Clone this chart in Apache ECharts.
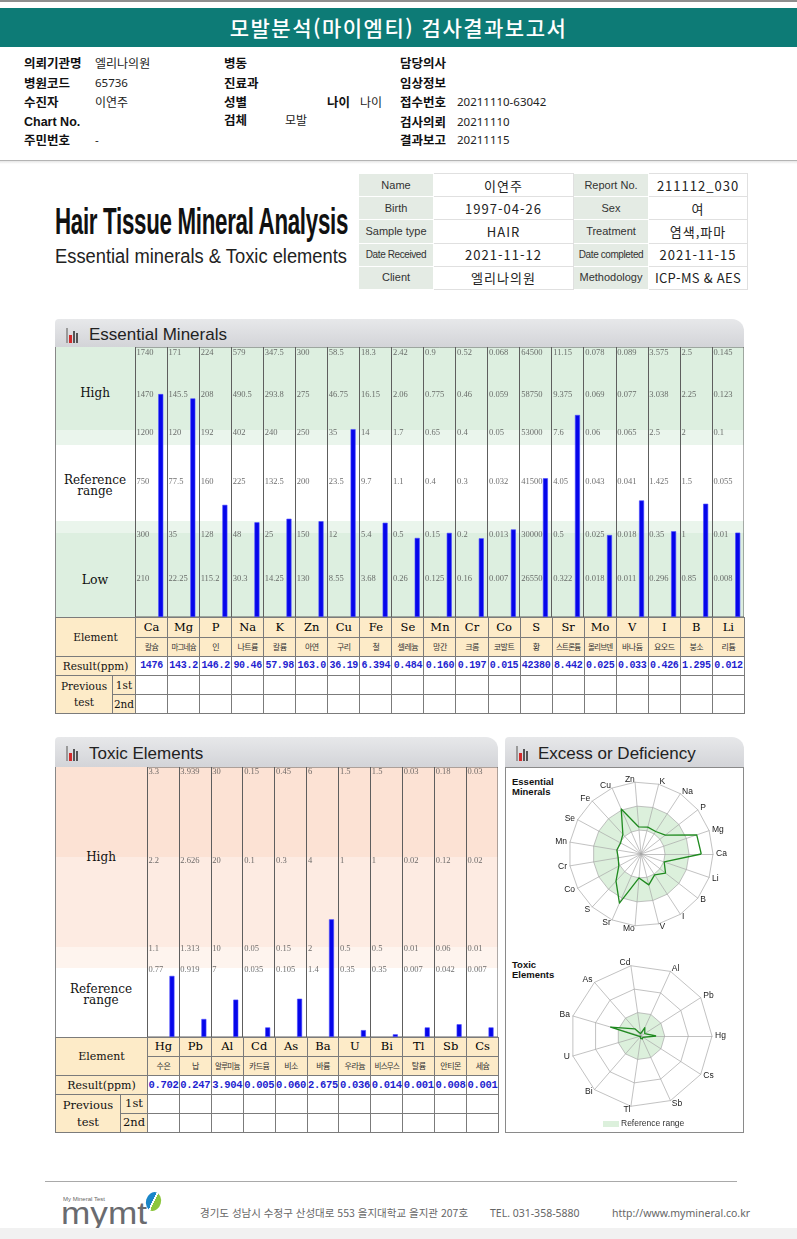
<!DOCTYPE html>
<html lang="ko"><head><meta charset="utf-8"><title>모발분석(마이엠티) 검사결과보고서</title>
<script src="https://cdn.jsdelivr.net/npm/echarts@6.0.0/dist/echarts.min.js"></script>
<style>
html,body{margin:0;padding:0;background:#fff;width:797px;height:1239px;overflow:hidden;}
#page{position:relative;width:797px;height:1239px;font-family:'Noto Sans CJK KR','Noto Sans',sans-serif;color:#111;}
table.g{position:absolute;border-collapse:collapse;table-layout:fixed;}
table.g td{border:1px solid #7b7b7b;padding:0;text-align:center;vertical-align:middle;overflow:hidden;white-space:nowrap;line-height:1;}
td.hd{background:#fdebc8;font-family:'DejaVu Serif',serif;color:#111;}
td.sym{background:#fdebc8;font-family:'DejaVu Serif',serif;font-size:11.5px;color:#000;}
td.kor{background:#fdebc8;font-size:8px;color:#333;letter-spacing:-0.5px;}
td.res{background:#fff;font-family:'Liberation Mono',monospace;font-weight:bold;color:#1f1fd0;letter-spacing:-0.3px;}
td.emp{background:#fff;}
table.info{position:absolute;left:358px;top:173px;width:389px;height:117px;border-collapse:collapse;table-layout:fixed;border:1px solid #b0b0b0;}
table.info td{padding:0;text-align:center;vertical-align:middle;white-space:nowrap;line-height:1;}
table.info td.l{background:#e4ebe4;border:1px solid #fff;font-family:'Liberation Sans',Arial,sans-serif;font-size:11px;color:#333;}
table.info td.v{background:#fff;border:1px solid #e0e0e0;font-size:13px;color:#222;letter-spacing:1px;}
</style></head>
<body><div id="page"></div>
<script>
// ---------------- DATA ----------------
const essSymbols = ['Ca','Mg','P','Na','K','Zn','Cu','Fe','Se','Mn','Cr','Co','S','Sr','Mo','V','I','B','Li'];
const essKorean  = ['칼슘','마그네슘','인','나트륨','칼륨','아연','구리','철','셀레늄','망간','크롬','코발트','황','스트론튬','몰리브덴','바나듐','요오드','붕소','리튬'];
const essResults = ['1476','143.2','146.2','90.46','57.98','163.0','36.19','6.394','0.484','0.160','0.197','0.015','42380','8.442','0.025','0.033','0.426','1.295','0.012'];
const essTop     = [1740,171,224,579,347.5,300,58.5,18.3,2.42,0.9,0.52,0.068,64500,11.15,0.078,0.089,3.575,2.5,0.145];
const essHighMid = [1470,145.5,208,490.5,293.8,275,46.75,16.15,2.06,0.775,0.46,0.059,58750,9.375,0.069,0.077,3.038,2.25,0.123];
const essHighMin = [1200,120,192,402,240,250,35,14,1.7,0.65,0.4,0.05,53000,7.6,0.06,0.065,2.5,2,0.1];
const essRefMid  = [750,77.5,160,225,132.5,200,23.5,9.7,1.1,0.4,0.3,0.032,41500,4.05,0.043,0.041,1.425,1.5,0.055];
const essRefMin  = [300,35,128,48,25,150,12,5.4,0.5,0.15,0.2,0.013,30000,0.5,0.025,0.018,0.35,1,0.01];
const essLowMid  = [210,22.25,115.2,30.3,14.25,130,8.55,3.68,0.26,0.125,0.16,0.007,26550,0.322,0.018,0.011,0.296,0.85,0.008];

const toxSymbols = ['Hg','Pb','Al','Cd','As','Ba','U','Bi','Tl','Sb','Cs'];
const toxKorean  = ['수은','납','알루미늄','카드뮴','비소','바륨','우라늄','비스무스','탈륨','안티몬','세슘'];
const toxResults = ['0.702','0.247','3.904','0.005','0.060','2.675','0.036','0.014','0.001','0.008','0.001'];
const toxTop     = [3.3,3.939,30,0.15,0.45,6,1.5,1.5,0.03,0.18,0.03];
const toxHighMin = [2.2,2.626,20,0.1,0.3,4,1,1,0.02,0.12,0.02];
const toxRefMax  = [1.1,1.313,10,0.05,0.15,2,0.5,0.5,0.01,0.06,0.01];
const toxRefMid  = [0.77,0.919,7,0.035,0.105,1.4,0.35,0.35,0.007,0.042,0.007];

const infoLabelsL = ['Name','Birth','Sample type','Date Received','Client'];
const infoValuesL = ['이연주','1997-04-26','HAIR','2021-11-12','엘리나의원'];
const infoLabelsR = ['Report No.','Sex','Treatment','Date completed','Methodology'];
const infoValuesR = ['211112_030','여','염색,파마','2021-11-15','ICP-MS & AES'];

// ---------------- LAYOUT ----------------
const page = document.getElementById('page');
function box(x,y,w,h,css,html){const d=document.createElement('div');d.style.cssText=`position:absolute;left:${x}px;top:${y}px;width:${w}px;height:${h}px;`+(css||'');if(html!=null)d.innerHTML=html;page.appendChild(d);return d;}
function txt(x,yc,s,css){const d=document.createElement('div');d.style.cssText=`position:absolute;left:${x}px;top:${yc}px;transform:translateY(-50%);white-space:nowrap;line-height:1;`+(css||'');d.textContent=s;page.appendChild(d);return d;}
function ctxt(x,w,yc,s,css){const d=document.createElement('div');d.style.cssText=`position:absolute;left:${x}px;width:${w}px;top:${yc}px;transform:translateY(-50%);text-align:center;white-space:nowrap;`+(css||'');d.innerHTML=s;page.appendChild(d);return d;}
function fitText(x,yc,s,width,css){const d=txt(x,yc,s,css);const w=d.getBoundingClientRect().width;d.style.transformOrigin='left center';d.style.transform=`translateY(-50%) scaleX(${width/w})`;return d;}

// top header
box(0,0,797,2,'background:#8e8e8e');
box(0,8,797,39,'background:#0d7b76;color:#fff;text-align:center;line-height:39px;font-size:21px;font-weight:500;letter-spacing:1.5px;','모발분석(마이엠티) 검사결과보고서');
const LB='font-weight:bold;font-size:12.5px;color:#111;';
const VL='font-size:12px;color:#222;';
const VN='font-size:11.5px;color:#222;font-family:"Noto Sans",sans-serif;';
txt(24,63,'의뢰기관명',LB); txt(95,63,'엘리나의원',VL);
txt(24,83,'병원코드',LB);  txt(95,83,'65736',VN);
txt(24,102,'수진자',LB);   txt(95,102,'이연주',VL);
txt(24,122,'Chart No.','font-weight:bold;font-size:12.5px;font-family:"Liberation Sans",Arial,sans-serif;');
txt(24,140,'주민번호',LB); txt(95,140,'-',VN);
txt(224,63,'병동',LB); txt(224,83,'진료과',LB); txt(224,102,'성별',LB);
txt(327,102,'나이',LB); txt(360,102,'나이',VL);
txt(224,120,'검체',LB); txt(285,120,'모발',VL);
txt(400,63,'담당의사',LB); txt(400,83,'임상정보',LB);
txt(400,102,'접수번호',LB); txt(457,102,'20211110-63042',VN);
txt(400,122,'검사의뢰',LB); txt(457,122,'20211110',VN);
txt(400,140,'결과보고',LB); txt(457,140,'20211115',VN);
box(0,160,797,1,'background:#b4b4b4');
box(0,161,797,3,'background:linear-gradient(#e6e6e6,#fff)');

// title block
fitText(55,221,'Hair Tissue Mineral Analysis',293,'font-family:"Liberation Sans",Arial,sans-serif;font-weight:bold;font-size:37px;color:#111;letter-spacing:-0.5px;');
fitText(55,256,'Essential minerals & Toxic elements',292,'font-family:"Liberation Sans",Arial,sans-serif;font-size:20px;color:#222;');

// info table
(function(){
  const t=document.createElement('table');t.className='info';
  let h='<colgroup><col style="width:75px"><col style="width:140px"><col style="width:75px"><col style="width:99px"></colgroup>';
  for(let i=0;i<infoLabelsL.length;i++){
    const sm=(s)=>s.length>11?'font-size:10px;letter-spacing:-0.4px;':'';
    h+=`<tr><td class="l" style="${sm(infoLabelsL[i])}">${infoLabelsL[i]}</td><td class="v">${infoValuesL[i]}</td><td class="l" style="${sm(infoLabelsR[i])}">${infoLabelsR[i]}</td><td class="v" style="${infoValuesR[i].length>10?'letter-spacing:0.3px;':''}">${infoValuesR[i]}</td></tr>`;
  }
  t.innerHTML=h;page.appendChild(t);
})();

// section headers
function sectionHeader(x,y,w,h,title,tx){
  box(x,y,w,h,'background:linear-gradient(#e7e8ea,#d3d4d8);border-radius:4px 12px 0 0;');
  box(x+11,y+9,2,15,'background:#9a9a9a');
  box(x+14,y+16,3,8,'background:#d22b2b');
  box(x+18,y+12,2,12,'background:#555');
  box(x+21,y+14,2,10,'background:#555');
  txt(tx,y+h/2+1,title,'font-family:"Liberation Sans",Arial,sans-serif;font-size:17px;color:#222;');
}
sectionHeader(55,319,689,28,'Essential Minerals',89);
sectionHeader(55,737,443,30,'Toxic Elements',89);
sectionHeader(505,737,239,30,'Excess or Deficiency',538);

// piecewise scale: breakpoint values (descending) -> levels (descending), 0 -> 0
function piecewise(v,bps,lv){
  const b=bps.concat([0]), l=lv.concat([0]);
  if(v>=b[0]) return l[0]+(v-b[0])/(b[0]-b[1])*(l[0]-l[1]);
  for(let k=0;k<b.length-1;k++){ if(v>=b[k+1]) return l[k+1]+(v-b[k+1])/(b[k]-b[k+1])*(l[k]-l[k+1]); }
  return 0;
}

// ---------- Essential bar panel ----------
const ESS={x:135,y:347,w:609,h:270};
[[347,430,'#ddefe0'],[430,445,'#eaf5ec'],[521,533,'#eaf5ec'],[533,617,'#ddefe0']].forEach(b=>box(55,b[0],689,b[1]-b[0],'background:'+b[2]));
box(55,347,1,270,'background:#888');
const RL='font-family:"DejaVu Serif",serif;color:#111;line-height:1.0;';
ctxt(55,80,393,'High',RL+'font-size:12px;');
ctxt(55,80,486,'Reference<br>range',RL+'font-size:12px;line-height:0.95;');
ctxt(55,80,580,'Low',RL+'font-size:12.5px;');

const TOX={x:147,y:767,w:351,h:270};
[[767,857,'#fce2d4'],[857,947,'#fdebe2'],[947,968,'#fef4ee']].forEach(b=>box(55,b[0],443,b[1]-b[0],'background:'+b[2]));
box(55,767,1,270,'background:#888');
ctxt(55,92,857,'High',RL+'font-size:12px;');
ctxt(55,92,995,'Reference<br>range',RL+'font-size:12px;line-height:0.95;');

function barPanel(area,symbols,rows,levelsPx,results,barGap){
  const el=box(area.x,area.y,area.w,area.h,'');
  const chart=echarts.init(el,null,{renderer:'canvas'});
  const vals=results.map(Number);
  const barY=vals.map((v,i)=>piecewise(v,rows.map(r=>r[i]),levelsPx));
  const labelData=[];
  rows.forEach((r,k)=>r.forEach((v,i)=>labelData.push({value:[i,levelsPx[k]],t:String(v)})));
  chart.setOption({
    animation:false,
    grid:{left:0,right:0,top:0,bottom:0,show:true,borderColor:'#5e5e5e',borderWidth:1,backgroundColor:'transparent'},
    xAxis:{type:'category',data:symbols,boundaryGap:true,axisLine:{show:false},axisTick:{show:false},axisLabel:{show:false},
      splitLine:{show:true,interval:0,lineStyle:{color:'#5e5e5e',width:1}}},
    yAxis:{type:'value',min:0,max:area.h,show:false},
    series:[
      {type:'bar',name:'pad',data:symbols.map(()=>0),barWidth:5,barGap:barGap,silent:true,itemStyle:{color:'rgba(0,0,0,0)'}},
      {type:'bar',name:'Result',data:barY,barWidth:5,barGap:barGap,itemStyle:{color:'#0606ea',borderColor:'#4a4aff',borderWidth:0.6}},
      {type:'scatter',name:'ticks',data:labelData,symbolSize:1,silent:true,itemStyle:{color:'rgba(0,0,0,0)'},
        label:{show:true,position:'right',distance:0,offset:[-15,0],formatter:p=>p.data.t,fontSize:8.5,fontFamily:'Liberation Serif',color:'#4a4a4a'}}
    ]
  });
  return chart;
}
barPanel(ESS,essSymbols,[essTop,essHighMid,essHighMin,essRefMid,essRefMin,essLowMid],[264,222,184,135,82,38],essResults,'290%');
barPanel(TOX,toxSymbols,[toxTop,toxHighMin,toxRefMax,toxRefMid],[265,176,88,67],toxResults,'260%');

// ---------- tables ----------
function buildTable(x,y,splitW,subW,colW,rowHs,symbols,korean,results,fs){
  const t=document.createElement('table');t.className='g';
  t.style.left=x+'px';t.style.top=y+'px';t.style.width=(splitW+subW+colW*symbols.length)+'px';
  let h='<colgroup><col style="width:'+splitW+'px"><col style="width:'+subW+'px">'+symbols.map(()=>'<col style="width:'+colW+'px">').join('')+'</colgroup>';
  h+=`<tr style="height:${rowHs[0]}px"><td class="hd" colspan="2" rowspan="2" style="font-size:${fs.hd}px">Element</td>`+symbols.map(s=>`<td class="sym">${s}</td>`).join('')+'</tr>';
  h+=`<tr style="height:${rowHs[1]}px">`+korean.map(s=>`<td class="kor" style="${s.length>=4?'font-size:7.5px;letter-spacing:-0.8px;':''}">${s}</td>`).join('')+'</tr>';
  h+=`<tr style="height:${rowHs[2]}px"><td class="hd" colspan="2" style="font-size:${fs.hd}px">Result(ppm)</td>`+results.map(s=>`<td class="res" style="font-size:${fs.res}px">${s}</td>`).join('')+'</tr>';
  h+=`<tr style="height:${rowHs[3]}px"><td class="hd" rowspan="2" style="font-size:${fs.prev}px;line-height:1.45">Previous<br>test</td><td class="hd" style="font-size:${fs.prev}px">1st</td>`+symbols.map(()=>'<td class="emp"></td>').join('')+'</tr>';
  h+=`<tr style="height:${rowHs[4]}px"><td class="hd" style="font-size:${fs.prev}px">2nd</td>`+symbols.map(()=>'<td class="emp"></td>').join('')+'</tr>';
  t.innerHTML=h;page.appendChild(t);
}
buildTable(55,617,57,23,609/19,[20,19,19,19,19],essSymbols,essKorean,essResults,{hd:10.5,res:10,prev:10.5});
buildTable(55,1037,65,27,351/11,[19,19,19,19,19],toxSymbols,toxKorean,toxResults,{hd:11,res:10.5,prev:11.5});

// ---------- radar (excess or deficiency) ----------
box(505,767,239,366,'border:1px solid #8a8a8a;box-sizing:border-box;');
const essRadar=essResults.map(Number).map((v,i)=>piecewise(v,[essTop[i],essHighMid[i],essHighMin[i],essRefMid[i],essRefMin[i],essLowMid[i]],[6,5,4,3,2,1]));
const toxRadar=toxResults.map(Number).map((v,i)=>piecewise(v,[toxTop[i],toxHighMin[i],toxRefMax[i]],[3,2,1]));
txt(512,787,'','');
const RT='font-family:"Liberation Sans",Arial,sans-serif;font-weight:bold;font-size:9.5px;color:#111;line-height:1.05;white-space:pre;';
box(512,777,60,22,RT,'Essential<br>Minerals');
box(512,960,60,22,RT,'Toxic<br>Elements');

function radarPanel(x,y,w,h,cx,cy,r,symbols,max,values,areaColors,extra){
  const chart=echarts.init(box(x,y,w,h,''));
  const opt={
    animation:false,
    radar:{center:[cx,cy],radius:r,startAngle:0,splitNumber:3,shape:'polygon',nameGap:3,
      indicator:symbols.map(s=>({name:s,min:0,max:max})),
      axisName:{color:'#222',fontSize:8.5,fontFamily:'Liberation Sans'},
      axisLine:{lineStyle:{color:'#a8a8a8',width:0.7}},
      splitLine:{lineStyle:{color:'#a8a8a8',width:0.7}},
      splitArea:{show:true,areaStyle:{color:areaColors}}},
    series:[{type:'radar',symbol:'none',lineStyle:{color:'#1f8a1f',width:1.3},data:[{name:'Result',value:values}]}]
  };
  if(extra) Object.assign(opt,extra);
  chart.setOption(opt);
}
radarPanel(506,768,237,185,135,86,72,essSymbols,6,essRadar,['rgba(0,0,0,0)','#dcf0dc','rgba(0,0,0,0)']);
radarPanel(506,951,237,181,135,85,71,toxSymbols,3,toxRadar,['#dcf0dc','rgba(0,0,0,0)','rgba(0,0,0,0)'],{
  graphic:[
    {type:'rect',shape:{x:97,y:170,width:16,height:6},style:{fill:'#dcf0dc'}},
    {type:'text',x:115,y:173,style:{text:'Reference range',fontSize:8.5,fontFamily:'Liberation Sans',fill:'#333',verticalAlign:'middle'}}
  ]
});

// ---------- footer ----------
box(45,1181,692,1,'background:#a9a9a9');
txt(63,1199,'My Mineral Test','font-family:"Liberation Sans",Arial,sans-serif;font-size:6px;color:#666;');
fitText(61,1213,'mymt',86,'font-family:"Liberation Sans",Arial,sans-serif;font-size:32px;color:#6a6b6f;');
box(146,1192,15,19,'border-radius:50%;background:linear-gradient(100deg,#1a86c8 0%,#1a86c8 44%,#fff 44%,#fff 54%,#8dc63f 54%);transform:rotate(15deg);');
txt(200,1213,'경기도 성남시 수정구 산성대로 553 을지대학교 을지관 207호','font-size:10.5px;color:#666;');
txt(490,1213,'TEL. 031-358-5880','font-size:10.5px;color:#666;font-family:"Noto Sans",sans-serif;');
txt(612,1213,'http://www.mymineral.co.kr','font-size:10.5px;color:#666;font-family:"Noto Sans",sans-serif;');
box(0,1228,797,11,'background:#f1f1f1');
</script>
</body></html>
